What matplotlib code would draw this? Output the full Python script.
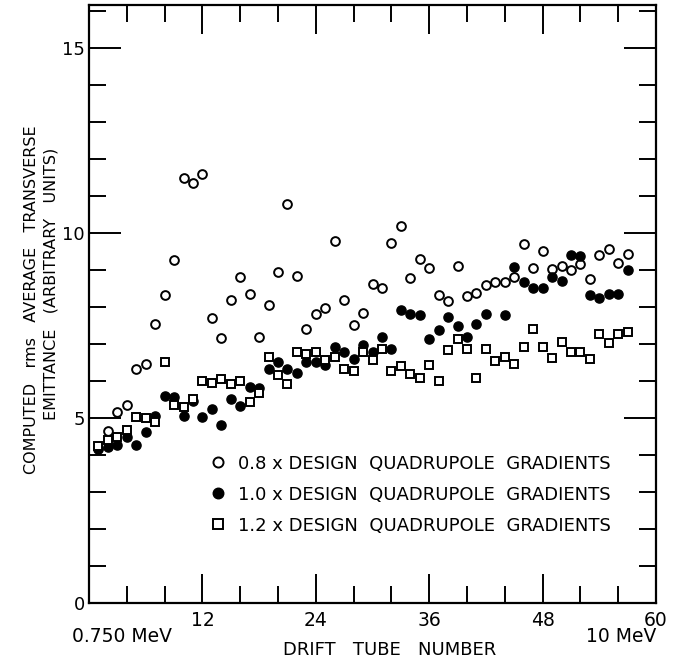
import matplotlib
matplotlib.use("Agg")
import matplotlib.pyplot as plt
from matplotlib.ticker import MultipleLocator

# drift tube numbers and computed emittance for the three gradient settings
tubes_08 = list(range(1, 58))
emit_08 = [4.15, 4.65, 5.16, 5.35, 6.31, 6.47, 7.54, 8.32, 9.27, 11.48,
           11.34, 11.60, 7.69, 7.15, 8.20, 8.80, 8.34, 7.18, 8.05, 8.95,
           10.78, 8.84, 7.40, 7.82, 7.98, 9.78, 8.20, 7.52, 7.84, 8.63,
           8.52, 9.73, 10.20, 8.79, 9.29, 9.06, 8.32, 8.16, 9.12, 8.29,
           8.38, 8.59, 8.67, 8.67, 8.82, 9.70, 9.04, 9.51, 9.02, 9.12,
           8.99, 9.17, 8.76, 9.40, 9.56, 9.20, 9.43]

tubes_10 = list(range(1, 43)) + list(range(44, 58))
emit_10 = [4.20, 4.22, 4.27, 4.48, 4.27, 4.61, 5.04, 5.59, 5.56, 5.05,
           5.47, 5.02, 5.24, 4.81, 5.52, 5.32, 5.83, 5.80, 6.32, 6.50,
           6.32, 6.22, 6.51, 6.50, 6.42, 6.93, 6.77, 6.59, 6.97, 6.79,
           7.20, 6.86, 7.92, 7.80, 7.78, 7.14, 7.39, 7.72, 7.49, 7.19,
           7.53, 7.80,
           7.77, 9.07, 8.68, 8.50, 8.51, 8.80, 8.70, 9.40, 9.38, 8.32,
           8.25, 8.36, 8.35, 9.00]

tubes_12 = list(range(1, 58))
emit_12 = [4.25, 4.40, 4.48, 4.68, 5.03, 5.01, 4.90, 6.50, 5.34, 5.30,
           5.50, 5.99, 5.94, 6.05, 5.93, 6.01, 5.44, 5.67, 6.66, 6.16,
           5.91, 6.77, 6.72, 6.77, 6.56, 6.66, 6.32, 6.28, 6.77, 6.56,
           6.87, 6.28, 6.41, 6.18, 6.08, 6.42, 5.99, 6.85, 7.14, 6.86,
           6.08, 6.86, 6.55, 6.66, 6.46, 6.91, 7.41, 6.91, 6.62, 7.05,
           6.77, 6.79, 6.59, 7.28, 7.03, 7.28, 7.31]

labels = ["0.8 x DESIGN  QUADRUPOLE  GRADIENTS",
          "1.0 x DESIGN  QUADRUPOLE  GRADIENTS",
          "1.2 x DESIGN  QUADRUPOLE  GRADIENTS"]
x_ticks = [0, 12, 24, 36, 48, 60]
x_tick_labels = ["", "12", "24", "36", "48", "60"]
y_ticks = [0, 5, 10, 15]

plt.rcParams['font.family'] = ['DejaVu Sans']

fig = plt.figure(figsize=(6.82, 6.62), dpi=100)
ax = fig.add_axes([89 / 682, 1 - 603 / 662, (656 - 89) / 682, (603 - 5) / 662])

ms = 6.3
h1, = ax.plot(tubes_08, emit_08, 'o', ms=ms, mfc='white', mec='black', mew=1.4, ls='none')
h2, = ax.plot(tubes_10, emit_10, 'o', ms=ms + 0.3, mfc='black', mec='black', mew=1.0, ls='none')
h3, = ax.plot(tubes_12, emit_12, 's', ms=ms - 0.4, mfc='white', mec='black', mew=1.4, ls='none')

ax.set_xlim(0, 60)
ax.set_ylim(0, 16.16)

ax.set_xticks(x_ticks)
ax.set_xticklabels(x_tick_labels)
ax.xaxis.set_minor_locator(MultipleLocator(4))
ax.set_yticks(y_ticks)
ax.yaxis.set_minor_locator(MultipleLocator(1))

ax.tick_params(which='both', direction='in', top=True, right=True,
               width=1.4, labelsize=13.5, colors='black')
ax.tick_params(axis='x', which='major', length=21, pad=6)
ax.tick_params(axis='x', which='minor', length=12)
ax.tick_params(axis='y', which='major', length=23, pad=3, labelsize=13)
ax.tick_params(axis='y', which='minor', length=12)

for sp in ax.spines.values():
    sp.set_linewidth(1.6)

# y axis title, two lines
ax.text(-0.101, 0.507, "COMPUTED   rms   AVERAGE   TRANSVERSE", transform=ax.transAxes,
        rotation=90, ha='center', va='center', fontsize=11.5)
ax.text(-0.067, 0.534, "EMITTANCE   (ARBITRARY   UNITS)", transform=ax.transAxes,
        rotation=90, ha='center', va='center', fontsize=11.5)

# energy labels and x title
ax.text(-0.03, -0.056, "0.750 MeV", transform=ax.transAxes, ha='left', va='center', fontsize=13.5)
ax.text(1.0, -0.056, "10 MeV", transform=ax.transAxes, ha='right', va='center', fontsize=13.5)
ax.text(0.53, -0.079, "DRIFT   TUBE   NUMBER", transform=ax.transAxes, ha='center', va='center', fontsize=13)

ax.legend([h1, h2, h3], labels, loc='upper left', bbox_to_anchor=(0.1985, 0.26),
          borderaxespad=0, frameon=False, fontsize=13, handlelength=1.0,
          handletextpad=0.6, labelspacing=0.72, numpoints=1, markerscale=1.15)

fig.savefig("out.png", dpi=100, facecolor='white')
